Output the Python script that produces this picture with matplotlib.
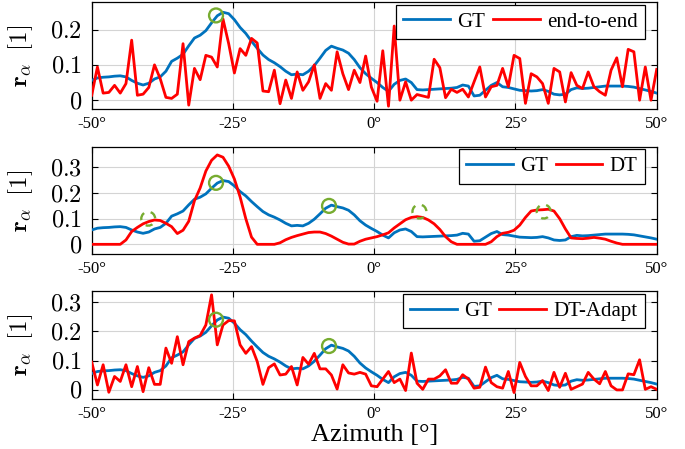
import numpy as np
import matplotlib
matplotlib.use('Agg')
import matplotlib.pyplot as plt

# azimuth grid (100 points from -50 to 50 deg)
azimuth = np.linspace(-50, 50, 100)

gt = [0.056, 0.063, 0.065, 0.066, 0.068, 0.069, 0.066, 0.056, 0.048, 0.043,
      0.048, 0.060, 0.066, 0.082, 0.110, 0.119, 0.130, 0.154, 0.176, 0.184,
      0.197, 0.219, 0.239, 0.249, 0.245, 0.228, 0.206, 0.189, 0.167, 0.147,
      0.128, 0.115, 0.106, 0.095, 0.082, 0.072, 0.074, 0.072, 0.082, 0.098,
      0.119, 0.141, 0.153, 0.147, 0.142, 0.133, 0.115, 0.092, 0.075, 0.062,
      0.050, 0.036, 0.025, 0.045, 0.056, 0.060, 0.050, 0.030, 0.029, 0.030,
      0.031, 0.032, 0.033, 0.034, 0.036, 0.043, 0.040, 0.012, 0.014, 0.028,
      0.042, 0.050, 0.038, 0.036, 0.032, 0.028, 0.027, 0.026, 0.027, 0.030,
      0.025, 0.017, 0.015, 0.017, 0.030, 0.035, 0.033, 0.034, 0.036, 0.038,
      0.040, 0.040, 0.040, 0.040, 0.039, 0.037, 0.033, 0.029, 0.025, 0.020]

end_to_end = [0.014, 0.094, 0.020, 0.022, 0.042, 0.020, 0.047, 0.170, 0.014, 0.017,
              0.036, 0.100, 0.061, 0.008, 0.005, 0.017, 0.160, -0.014, 0.090, 0.058,
              0.127, 0.122, 0.094, 0.230, 0.160, 0.077, 0.146, 0.127, 0.175, 0.162,
              0.026, 0.024, 0.085, -0.010, 0.057, 0.005, 0.080, 0.028, 0.052, 0.100,
              0.005, 0.047, 0.028, 0.137, 0.075, 0.030, 0.085, 0.050, 0.125, 0.037,
              -0.003, 0.140, -0.017, 0.210, 0.000, 0.052, 0.000, 0.016, 0.012, 0.008,
              0.116, 0.092, 0.007, 0.031, 0.022, 0.031, 0.009, 0.052, 0.094, 0.009,
              0.038, 0.042, 0.090, 0.038, 0.127, 0.118, -0.009, 0.075, 0.066, 0.047,
              -0.009, 0.090, 0.080, -0.005, 0.078, 0.042, 0.033, 0.080, 0.038, 0.024,
              0.014, 0.085, 0.120, 0.038, 0.144, 0.137, 0.000, 0.094, 0.000, 0.087]

dt = [0.0, 0.0, 0.0, 0.0, 0.0, 0.0, 0.017, 0.050, 0.066, 0.080,
      0.089, 0.095, 0.093, 0.082, 0.069, 0.042, 0.055, 0.090, 0.170, 0.220,
      0.286, 0.328, 0.349, 0.340, 0.305, 0.255, 0.185, 0.100, 0.028, 0.0,
      0.0, 0.0, 0.0, 0.006, 0.018, 0.027, 0.034, 0.040, 0.046, 0.048,
      0.048, 0.042, 0.032, 0.020, 0.008, 0.001, 0.001, 0.012, 0.020, 0.025,
      0.030, 0.037, 0.045, 0.064, 0.080, 0.096, 0.105, 0.108, 0.105, 0.095,
      0.080, 0.058, 0.030, 0.010, 0.0, 0.0, 0.0, 0.0, 0.0, 0.0,
      0.010, 0.030, 0.043, 0.047, 0.055, 0.075, 0.105, 0.130, 0.134, 0.135,
      0.137, 0.130, 0.100, 0.060, 0.025, 0.023, 0.022, 0.024, 0.027, 0.024,
      0.020, 0.012, 0.005, 0.0, 0.0, 0.0, 0.0, 0.0, 0.0, 0.0]

dt_adapt = [0.095, 0.017, 0.086, -0.008, 0.046, 0.029, 0.086, 0.011, 0.080, -0.006,
            0.076, 0.019, 0.019, 0.143, 0.091, 0.182, 0.086, 0.165, 0.177, 0.186,
            0.222, 0.325, 0.154, 0.222, 0.237, 0.236, 0.154, 0.125, 0.148, 0.097,
            0.019, 0.076, 0.089, 0.051, 0.054, 0.080, 0.017, 0.111, 0.088, 0.125,
            0.072, 0.072, 0.051, 0.003, 0.086, 0.058, 0.054, 0.060, 0.054, 0.014,
            0.011, 0.037, 0.063, 0.025, 0.037, -0.002, 0.126, 0.023, 0.002, 0.037,
            0.037, 0.048, 0.069, 0.023, 0.023, 0.052, 0.037, 0.006, 0.009, 0.078,
            0.025, 0.011, 0.006, 0.063, -0.009, 0.094, 0.046, 0.014, 0.014, 0.032,
            -0.002, 0.060, 0.009, 0.057, 0.002, 0.011, 0.020, 0.060, 0.037, 0.021,
            0.063, 0.014, 0.000, 0.000, 0.055, 0.052, 0.103, 0.002, 0.011, 0.002]

# true source positions (solid circles) and missed/extra ones (dashed)
src_az = [-28, -8]
src_r = [0.24, 0.15]
dash_az = [-40, 8, 30]
dash_r = [0.10, 0.128, 0.128]

xticks = [-50, -25, 0, 25, 50]
xticklabels = ['-50°', '-25°', '0°', '25°', '50°']

blue = '#0072BD'
red = '#FF0000'
green = '#77AC30'

plt.rcParams['font.family'] = 'Liberation Serif'
plt.rcParams['mathtext.fontset'] = 'cm'

fig = plt.figure(figsize=(6.85, 4.49), dpi=100)

# axes positions in figure fractions
left, width = 0.1339, 0.8248
panels = [
    dict(rect=[left, 0.7572, width, 0.2383], y=end_to_end, name='end-to-end',
         ylim=(-0.025, 0.278), yticks=[0, 0.1, 0.2], src=src_az[:1], srcr=src_r[:1], dashed=False),
    dict(rect=[left, 0.4336, width, 0.2396], y=dt, name='DT',
         ylim=(-0.039, 0.381), yticks=[0, 0.1, 0.2, 0.3], src=src_az, srcr=src_r, dashed=True),
    dict(rect=[left, 0.1107, width, 0.2405], y=dt_adapt, name='DT-Adapt',
         ylim=(-0.032, 0.337), yticks=[0, 0.1, 0.2, 0.3], src=src_az, srcr=src_r, dashed=False),
]

for k, p in enumerate(panels):
    ax = fig.add_axes(p['rect'])
    ax.plot(azimuth, gt, color=blue, lw=2, label='GT', zorder=3)
    ax.plot(azimuth, p['y'], color=red, lw=2, label=p['name'], zorder=3)
    ax.scatter(p['src'], p['srcr'], s=100, facecolors='none', edgecolors=green,
               linewidths=1.7, zorder=5)
    if p['dashed']:
        ax.scatter(dash_az, dash_r, s=100, facecolors='none', edgecolors=green,
                   linewidths=1.7, linestyles=(1.5, (3.4, 2.9)), zorder=5)
    ax.set_xlim(-50, 50)
    ax.set_ylim(*p['ylim'])
    ax.set_xticks(xticks)
    ax.set_xticklabels(xticklabels, fontsize=12)
    ax.set_yticks(p['yticks'])
    ax.set_yticklabels(['$%g$' % v for v in p['yticks']], fontsize=17.5)
    ax.tick_params(direction='in', length=4, width=0.8, top=True, right=True)
    ax.tick_params(axis='x', pad=5)
    ax.tick_params(axis='y', pad=7)
    ax.grid(True, color='#d4d4d4', lw=0.8)
    ax.set_axisbelow(True)
    for s in ax.spines.values():
        s.set_linewidth(0.9)
    ax.set_ylabel(r'$\mathbf{r}_\alpha\;\;[1]$', fontsize=18)
    ax.yaxis.set_label_coords(-0.1, 0.5)
    leg = ax.legend(loc='upper right', bbox_to_anchor=(0.979, 0.975), ncol=2,
                    fontsize=15, frameon=True, fancybox=False, framealpha=1,
                    edgecolor='black', borderpad=0.35, borderaxespad=0,
                    handlelength=2.25, handletextpad=0.35, columnspacing=0.35)
    leg.get_frame().set_linewidth(0.9)
    leg.set_zorder(10)
    if k == 2:
        ax.set_xlabel('Azimuth [°]', fontsize=19, labelpad=1)

fig.savefig('out.png', dpi=100)
